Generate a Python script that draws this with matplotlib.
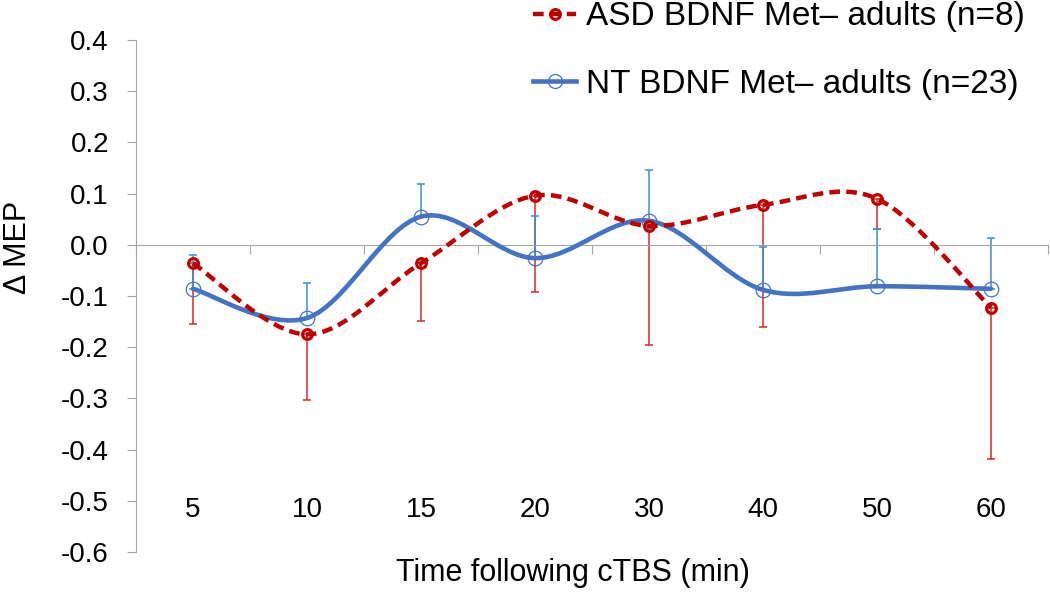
import numpy as np
import matplotlib
matplotlib.use("Agg")
import matplotlib.pyplot as plt
from matplotlib.path import Path
from matplotlib.patches import PathPatch
from matplotlib.lines import Line2D

plt.rcParams["font.family"] = ["Liberation Sans", "DejaVu Sans"]
plt.rcParams["axes.unicode_minus"] = False

# data
times = ["5", "10", "15", "20", "30", "40", "50", "60"]
asd_mean = [-0.036, -0.175, -0.036, 0.096, 0.037, 0.078, 0.090, -0.123]
asd_err_low = [0.118, 0.128, 0.112, 0.188, 0.233, 0.238, 0.059, 0.295]
nt_mean = [-0.086, -0.143, 0.055, -0.026, 0.047, -0.088, -0.081, -0.086]
nt_err_high = [0.066, 0.069, 0.063, 0.083, 0.100, 0.083, 0.112, 0.099]

asd_label = "ASD BDNF Met– adults (n=8)"
nt_label = "NT BDNF Met– adults (n=23)"

RED = "#C00000"
RED_ERR = "#D42A24"
BLUE = "#4472C4"
BLUE_ERR = "#3A8ED8"
GREY = "#A6A6A6"


def smooth_path(xs, ys):
    """Excel-like smoothed line: cubic bezier through every point."""
    pts = np.column_stack([xs, ys]).astype(float)
    padded = np.vstack([pts[0], pts, pts[-1]])
    verts = [pts[0]]
    codes = [Path.MOVETO]
    for i in range(len(pts) - 1):
        p0, p1, p2, p3 = padded[i], padded[i + 1], padded[i + 2], padded[i + 3]
        verts += [p1 + (p2 - p0) / 6, p2 - (p3 - p1) / 6, p2]
        codes += [Path.CURVE4] * 3
    return Path(verts, codes)


fig = plt.figure(figsize=(10.5, 5.92), dpi=100)
ax = fig.add_axes([136 / 1050, 40 / 592, 912 / 1050, 512 / 592])
x = np.arange(len(times))

# error bars (red goes down, blue goes up)
ax.errorbar(x, asd_mean, yerr=[asd_err_low, np.zeros(len(x))], fmt="none",
            ecolor=RED_ERR, elinewidth=1.1, capsize=2.9, capthick=1.1, zorder=2)
ax.errorbar(x, nt_mean, yerr=[np.zeros(len(x)), nt_err_high], fmt="none",
            ecolor=BLUE_ERR, elinewidth=1.1, capsize=2.9, capthick=1.1, zorder=2.5)

# smoothed lines
ax.add_patch(PathPatch(smooth_path(x, nt_mean), fill=False, edgecolor=BLUE,
                       linewidth=3.3, capstyle="round", zorder=3))
ax.add_patch(PathPatch(smooth_path(x, asd_mean), fill=False, edgecolor=RED,
                       linewidth=3.2, linestyle=(0, (2.4, 1.4)), zorder=4))

# markers
ax.plot(x, nt_mean, linestyle="none", marker="o", markersize=10.5,
        markerfacecolor="none", markeredgecolor=BLUE, markeredgewidth=0.9, zorder=3.5)
ax.plot(x, asd_mean, linestyle="none", marker="o", markersize=7,
        markerfacecolor="none", markeredgecolor=RED, markeredgewidth=2.3, zorder=4.5)

ax.set_xlim(-0.5, len(times) - 0.5)
ax.set_ylim(-0.6, 0.4)

# axes styling
for side in ["top", "right"]:
    ax.spines[side].set_visible(False)
ax.spines["left"].set_color(GREY)
ax.spines["bottom"].set_color(GREY)
ax.spines["bottom"].set_position(("data", 0))

yticks = np.round(np.arange(-0.6, 0.41, 0.1), 1)
ax.set_yticks(yticks)
ax.set_yticklabels([f"{abs(v):.1f}" if abs(v) < 1e-9 else f"{v:.1f}" for v in yticks])
ax.tick_params(axis="y", direction="out", length=6.5, width=0.8, color=GREY,
               labelsize=20, pad=13)

ax.set_xticks(x)
ax.set_xticklabels([])
ax.set_xticks(np.arange(-0.5, len(times)), minor=True)
ax.tick_params(axis="x", which="major", length=0)
ax.tick_params(axis="x", which="minor", direction="out", length=6.3, width=0.8, color=GREY)

# category labels sit low inside the plot
for xi, t in zip(x, times):
    ax.text(xi, -0.517, t, ha="center", va="center", fontsize=20)

fig.text(18 / 1050, 1 - 247 / 592, "Δ MEP", rotation=90, ha="center", va="center", fontsize=22)
fig.text(573 / 1050, 1 - 573 / 592, "Time following cTBS (min)", ha="center", va="center", fontsize=22)

handles = [
    Line2D([], [], color=RED, linewidth=3.2, linestyle=(0, (2.4, 1.4)), marker="o",
           markersize=7, markerfacecolor="none", markeredgecolor=RED, markeredgewidth=2.3),
    Line2D([], [], color=BLUE, linewidth=3.3, marker="o", markersize=10,
           markerfacecolor="none", markeredgecolor=BLUE, markeredgewidth=0.9),
]
fig.legend(handles, [asd_label, nt_label], loc="upper left",
           bbox_to_anchor=(533 / 1050, 0.998), frameon=False, fontsize=24,
           handlelength=1.3, handletextpad=0.3, labelspacing=1.1,
           borderpad=0, borderaxespad=0)

fig.savefig("out.png", dpi=100)
